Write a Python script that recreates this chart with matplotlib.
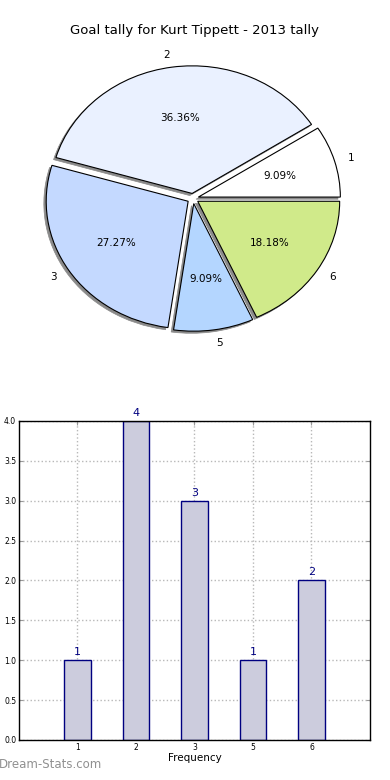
import numpy as np
import matplotlib
matplotlib.use('Agg')
import matplotlib.pyplot as plt

# данные
goals = ['1', '2', '3', '5', '6']          # голов за матч
counts = [1, 4, 3, 1, 2]                    # сколько раз
pie_colors = ['#ffffff', '#eaf1ff', '#c4d9ff', '#b4d6ff', '#d0ea8a']

fig = plt.figure(figsize=(3.9, 7.8), dpi=100)

# пирог сверху
ax1 = fig.add_axes([0.0397, 0.541, 0.910, 0.409])
wedges, texts, autotexts = ax1.pie(
    counts, labels=goals, colors=pie_colors, autopct='%1.2f%%',
    startangle=0, explode=[0.04] * len(counts), labeldistance=1.1,
    shadow={'ox': -0.012, 'oy': -0.012, 'facecolor': '#8a8a8a', 'edgecolor': '#8a8a8a',
            'alpha': 1, 'linewidth': 0.5},
    wedgeprops={'edgecolor': 'black', 'linewidth': 0.8},
    textprops={'fontsize': 7.5})
ax1.set_aspect('auto')  # старый вид - пирог немного сплюснут
ax1.set_xlim(-1.25, 1.25)
ax1.set_ylim(-1.25, 1.25)
fig.text(0.5, 0.961, 'Goal tally for Kurt Tippett - 2013 tally', ha='center', va='center', fontsize=9.5)

# столбцы снизу
ax2 = fig.add_axes([0.0487, 0.0513, 0.900, 0.409])
x = np.arange(1, len(goals) + 1)
bars = ax2.bar(x, counts, width=0.45, color='#ccccdd', edgecolor='#000080', linewidth=1, zorder=2)
for xi, c in zip(x, counts):
    ax2.text(xi, c + 0.04, str(c), ha='center', va='bottom', fontsize=8, color='#000080')
ax2.set_xlim(0, len(goals) + 1)
ax2.set_ylim(0, 4)
ax2.set_xticks(x)
ax2.set_xticklabels(goals)
ax2.set_yticks(np.arange(0, 4.01, 0.5))
ax2.set_yticklabels(['%.1f' % v for v in np.arange(0, 4.01, 0.5)])
ax2.tick_params(labelsize=5.5, direction='in', top=True, right=True, length=3, color='0.6', pad=2)
ax2.grid(True, linestyle=':', color='0.72', linewidth=1, zorder=0)
ax2.set_axisbelow(True)
ax2.set_xlabel('Frequency', fontsize=7.5, labelpad=1)
for s in ax2.spines.values():
    s.set_linewidth(1)

fig.text(-0.003, 0.012, 'Dream-Stats.com', fontsize=8.5, color='#909090', ha='left', va='bottom')

plt.savefig('out.png', dpi=100)
